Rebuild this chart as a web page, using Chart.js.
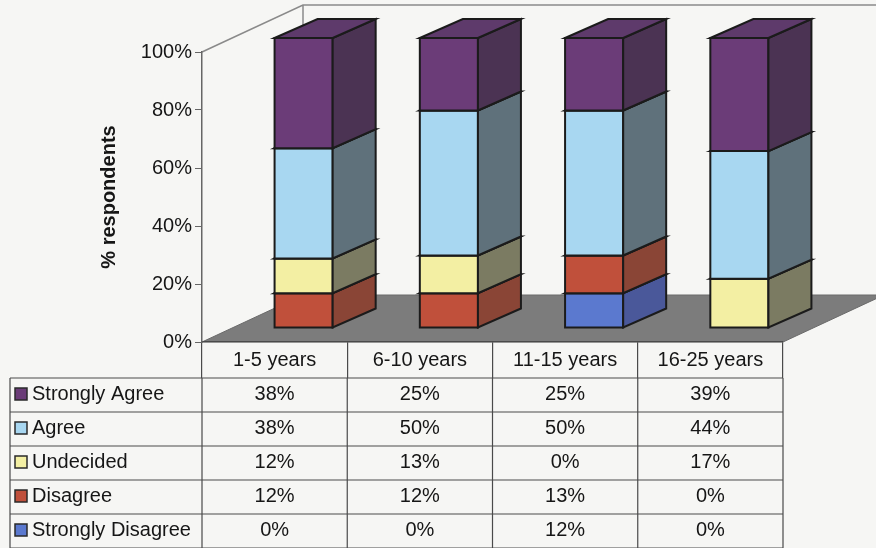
<!DOCTYPE html>
<html>
<head>
<meta charset="utf-8">
<script src="https://cdn.jsdelivr.net/npm/chart.js@4"></script>
<style>
  html, body { margin: 0; padding: 0; background: #f6f6f4; }
  #wrap { width: 876px; height: 548px; }
</style>
</head>
<body>
<div id="wrap"><canvas id="chart" width="876" height="548"></canvas></div>
<script>
// data
const categories = ["1-5 years", "6-10 years", "11-15 years", "16-25 years"];
const stronglyAgree = [38, 25, 25, 39];
const agree = [38, 50, 50, 44];
const undecided = [12, 13, 0, 17];
const disagree = [12, 12, 13, 0];
const stronglyDisagree = [0, 0, 12, 0];
const yTickStep = 20;

// stacked bottom -> top
const seriesNames = ["Strongly Disagree", "Disagree", "Undecided", "Agree", "Strongly Agree"];
const seriesData = [stronglyDisagree, disagree, undecided, agree, stronglyAgree];
const frontColors = ["#5b79cf", "#c0503b", "#f3efa3", "#a8d7f1", "#6b3c78"];
const sideColors = ["#4a589a", "#8a4536", "#7b7b62", "#5f717b", "#4b3353"];
const topColors = ["#5468b8", "#a84a38", "#d8d48e", "#8fb8cf", "#5e3a6b"];

const FONT = '"Liberation Sans", Arial, sans-serif';
const wall = { dx: 101, dy: -47 };     // depth of the whole plot box
const shift = { dx: 29, dy: -14 };     // bars sit inside the box
const barDepth = { dx: 43, dy: -19 };
const rowH = 34;

function poly(ctx, pts, fill, stroke, lw) {
  ctx.beginPath();
  ctx.moveTo(pts[0][0], pts[0][1]);
  for (let i = 1; i < pts.length; i++) ctx.lineTo(pts[i][0], pts[i][1]);
  ctx.closePath();
  if (fill) { ctx.fillStyle = fill; ctx.fill(); }
  if (stroke) { ctx.strokeStyle = stroke; ctx.lineWidth = lw || 1; ctx.stroke(); }
}

const box3d = {
  id: "box3d",
  beforeDraw(chart) {
    const { ctx, chartArea: a } = chart;
    ctx.save();
    ctx.fillStyle = "#f6f6f4";
    ctx.fillRect(0, 0, chart.width, chart.height);
    // floor
    poly(ctx, [[a.left, a.bottom], [a.left + wall.dx, a.bottom + wall.dy],
      [a.right + wall.dx, a.bottom + wall.dy], [a.right, a.bottom]], "#7c7c7c", "#6a6a6a", 1);
    // walls
    ctx.strokeStyle = "#8a8a8a";
    ctx.lineWidth = 1.5;
    ctx.beginPath();
    ctx.moveTo(a.left, a.top);
    ctx.lineTo(a.left + wall.dx, a.top + wall.dy);
    ctx.lineTo(chart.width, a.top + wall.dy);
    ctx.moveTo(a.left + wall.dx, a.top + wall.dy);
    ctx.lineTo(a.left + wall.dx, a.bottom + wall.dy);
    ctx.stroke();
    ctx.restore();
  },
  beforeDatasetsDraw(chart) {
    const ctx = chart.ctx;
    ctx.save();
    ctx.lineJoin = "miter";
    chart.data.datasets.forEach((ds, di) => {
      const meta = chart.getDatasetMeta(di);
      meta.data.forEach((bar, i) => {
        if (!ds.data[i]) return;
        const p = bar.getProps(["x", "y", "base", "width"], true);
        const l = p.x - p.width / 2 + shift.dx, r = p.x + p.width / 2 + shift.dx;
        const t = p.y + shift.dy, b = p.base + shift.dy;
        const dx = barDepth.dx, dy = barDepth.dy;
        poly(ctx, [[l, t], [r, t], [r, b], [l, b]], frontColors[di], "#1b1b1b", 2);
        poly(ctx, [[r, t], [r + dx, t + dy], [r + dx, b + dy], [r, b]], sideColors[di], "#1b1b1b", 2);
        poly(ctx, [[l, t], [l + dx, t + dy], [r + dx, t + dy], [r, t]], topColors[di], "#1b1b1b", 2);
      });
    });
    ctx.restore();
    return false;
  },
  afterDraw(chart) {
    // data table under the axis
    const { ctx } = chart;
    const x = chart.scales.x;
    const colW = x.width / categories.length;
    const top = x.bottom;
    const tableLeft = 10;
    ctx.save();
    ctx.strokeStyle = "#4a4a4a";
    ctx.lineWidth = 1.2;
    ctx.beginPath();
    for (let r = 0; r <= seriesNames.length; r++) {
      const y = top + r * rowH;
      ctx.moveTo(tableLeft, y);
      ctx.lineTo(x.right, y);
    }
    ctx.moveTo(tableLeft, top);
    ctx.lineTo(tableLeft, chart.height);
    for (let k = 0; k <= categories.length; k++) {
      const xx = x.left + k * colW;
      ctx.moveTo(xx, top);
      ctx.lineTo(xx, chart.height);
    }
    ctx.stroke();

    ctx.font = "20px " + FONT;
    ctx.textBaseline = "middle";
    for (let r = 0; r < seriesNames.length; r++) {
      const si = seriesNames.length - 1 - r;
      const cy = top + r * rowH + rowH / 2 - 1;
      // legend key
      ctx.fillStyle = frontColors[si];
      ctx.fillRect(15, cy - 6, 12, 12);
      ctx.strokeStyle = "#2a2a2a";
      ctx.lineWidth = 1.5;
      ctx.strokeRect(15, cy - 6, 12, 12);
      ctx.fillStyle = "#161616";
      ctx.textAlign = "left";
      ctx.fillText(seriesNames[si], 32, cy);
      ctx.textAlign = "center";
      seriesData[si].forEach((v, i) => {
        ctx.fillText(v + "%", x.getPixelForValue(i), cy);
      });
    }
    ctx.restore();
  }
};

new Chart(document.getElementById("chart"), {
  type: "bar",
  data: {
    labels: categories,
    datasets: seriesNames.map((name, i) => ({
      label: name,
      data: seriesData[i],
      backgroundColor: frontColors[i],
      categoryPercentage: 1,
      barPercentage: 0.4
    }))
  },
  options: {
    responsive: false,
    animation: false,
    layout: { padding: { top: 52, right: 93, bottom: 170, left: 0 } },
    plugins: { legend: { display: false }, tooltip: { enabled: false } },
    scales: {
      x: {
        stacked: true,
        afterFit: s => { s.height = 36; },
        grid: { offset: true, drawOnChartArea: false, drawTicks: true, tickLength: 36, color: "#4a4a4a", lineWidth: 1.2 },
        border: { display: true, color: "#4a4a4a", width: 1.2 },
        ticks: { padding: -30, color: "#161616", font: { family: FONT, size: 20 }, maxRotation: 0 }
      },
      y: {
        stacked: true,
        min: 0,
        max: 100,
        afterFit: s => { s.width = 202; },
        grid: { drawOnChartArea: false, drawTicks: true, tickLength: 7, color: "#666" },
        border: { display: true, color: "#666", width: 1.5 },
        ticks: { stepSize: yTickStep, padding: 3, color: "#161616", font: { family: FONT, size: 20 }, callback: v => v + "%" },
        title: { display: true, text: "% respondents", color: "#161616", font: { family: FONT, size: 20, weight: "bold" }, padding: { top: 97 } }
      }
    }
  },
  plugins: [box3d]
});
</script>
</body>
</html>
